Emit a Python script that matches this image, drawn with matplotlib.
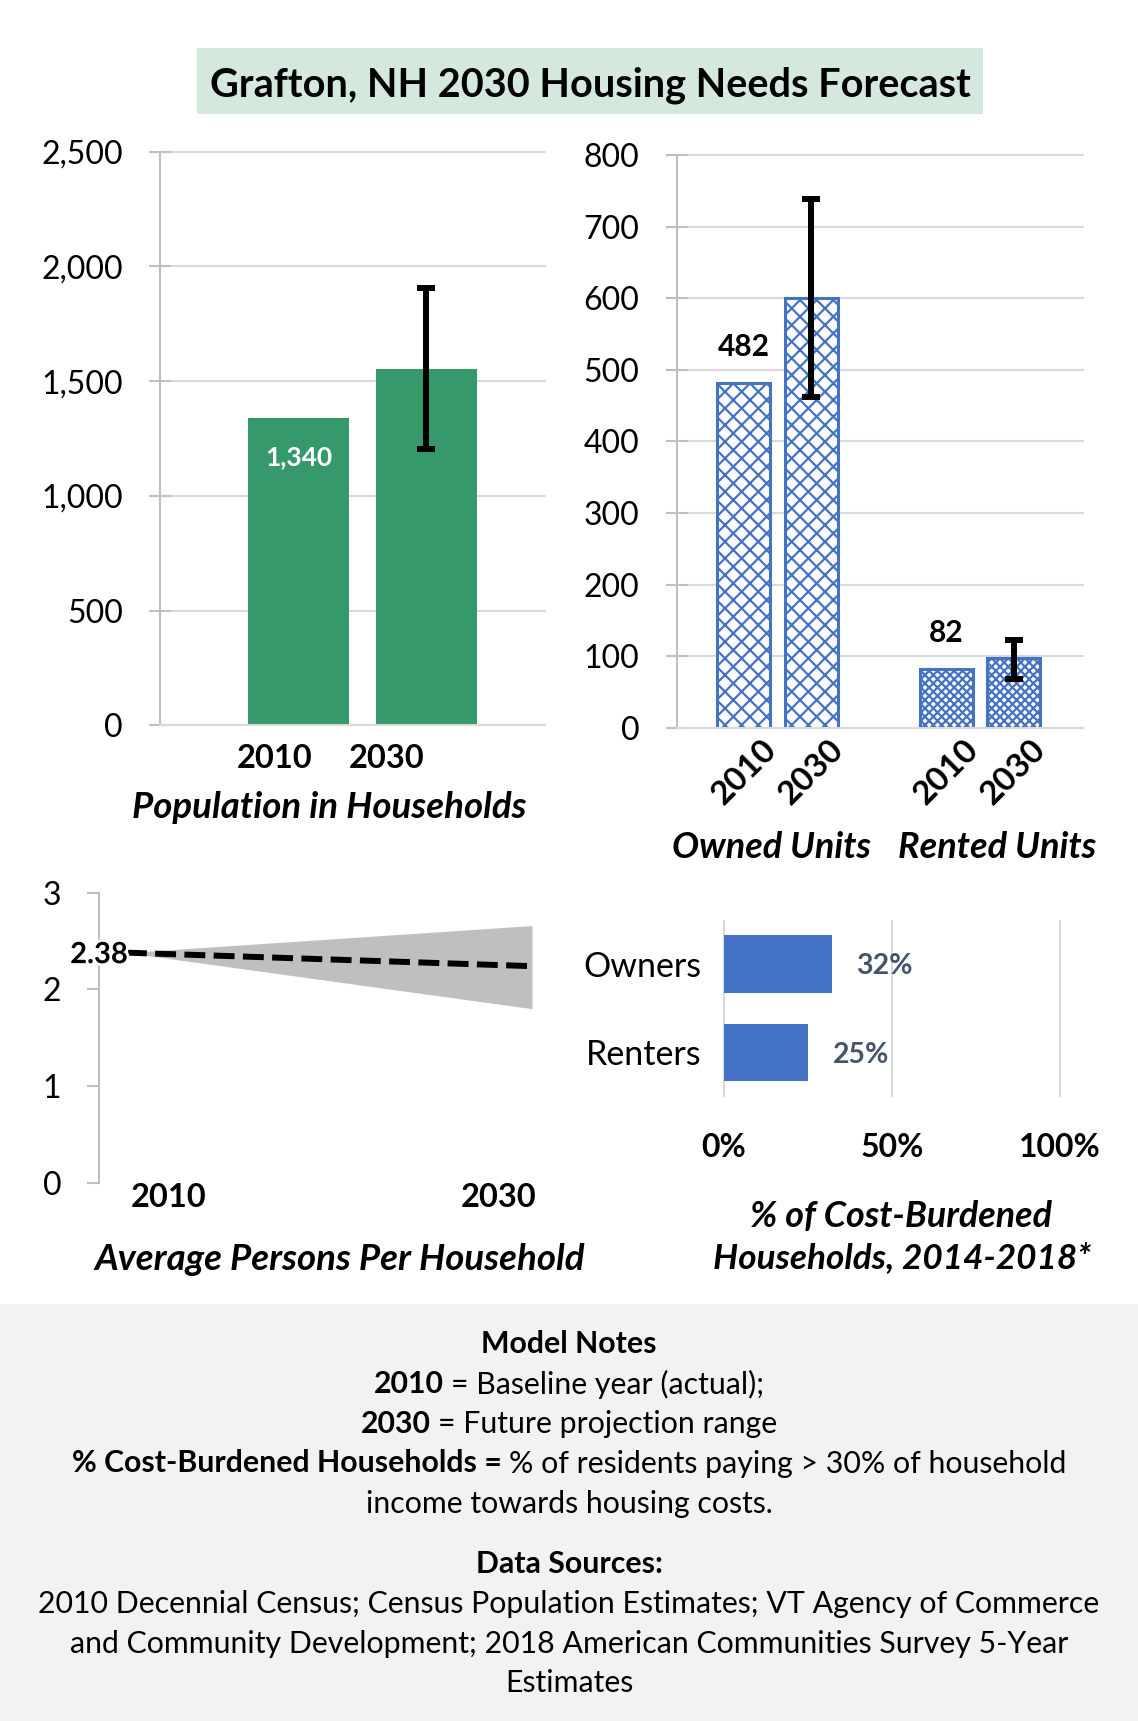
import numpy as np
import matplotlib
matplotlib.use("Agg")
import matplotlib.pyplot as plt
from matplotlib.patches import Rectangle
from matplotlib.transforms import ScaledTranslation
import matplotlib.patheffects as pe

plt.rcParams['font.family'] = ['Lato', 'DejaVu Sans']
plt.rcParams['hatch.linewidth'] = 1.6

# ---------------- data ----------------
title = "Grafton, NH 2030 Housing Needs Forecast"

pop_years = ['2010', '2030']
pop_values = [1340, 1553]
pop_range_2030 = [1203, 1904]
pop_ticks = [0, 500, 1000, 1500, 2000, 2500]

unit_years = ['2010', '2030']
unit_groups = ['Owned Units', 'Rented Units']
owned_values = [482, 600]
owned_range_2030 = [462, 738]
rented_values = [82, 97]
rented_range_2030 = [68, 123]
unit_ticks = [0, 100, 200, 300, 400, 500, 600, 700, 800]

pph_years = [2010, 2030]
pph_mid = [2.38, 2.24]
pph_low = [2.38, 1.80]
pph_high = [2.38, 2.66]
pph_ticks = [0, 1, 2, 3]

cost_cats = ['Owners', 'Renters']
cost_vals = [0.32, 0.25]
cost_ticks = [0, 0.5, 1.0]
cost_ticklabels = ['0%', '50%', '100%']

notes_lines = [
    [("Model Notes", 'bold')],
    [("2010", 'bold'), ("= Baseline year (actual);", 'normal')],
    [("2030", 'bold'), ("= Future projection range", 'normal')],
    [("% Cost-Burdened Households =", 'bold'), ("% of residents paying > 30% of household", 'normal')],
    [("income towards housing costs.", 'normal')],
    [("Data Sources:", 'bold')],
    [("2010 Decennial Census; Census Population Estimates; VT Agency of Commerce", 'normal')],
    [("and Community Development; 2018 American Communities Survey 5-Year", 'normal')],
    [("Estimates", 'normal')],
]

# ---------------- layout helpers ----------------
W, H = 1138, 1721
def fx(px):
    return px / W
def fy(py):
    return 1 - py / H
def rect(x0, x1, ytop, ybot):
    return [x0 / W, 1 - ybot / H, (x1 - x0) / W, (ybot - ytop) / H]

GREEN = '#35996B'
BLUE = '#4472C4'
GRID = '#D9D9D9'
SPINE = '#BFBFBF'
PT = 72 / 100.0  # points per pixel

fig = plt.figure(figsize=(W / 100, H / 100), dpi=100)
fig.patch.set_facecolor('white')

# backgrounds
fig.add_artist(Rectangle((0, 0), 1, (H - 1304) / H, transform=fig.transFigure,
                         facecolor='#F2F2F2', edgecolor='none', zorder=0))
fig.add_artist(Rectangle((fx(197), fy(114.3)), (983 - 197) / W, (114.3 - 48.3) / H,
                         transform=fig.transFigure, facecolor='#D5E8DE',
                         edgecolor='none', zorder=0))

renderer = fig.canvas.get_renderer()

def fit_text(t, target_px):
    w = t.get_window_extent(renderer).width
    t.set_fontsize(t.get_fontsize() * target_px / w)

tt = fig.text(fx(590), fy(81.5), title, ha='center', va='center_baseline',
              fontsize=26, fontweight='bold', color='black')
fit_text(tt, 759)

def axis_title(xp, yp, s, width_px):
    t = fig.text(fx(xp), fy(yp), s, ha='center', va='center_baseline',
                 fontsize=22, fontweight='bold', style='italic')
    fit_text(t, width_px)
    return t

def style_value_axis(ax):
    for s in ['top', 'right']:
        ax.spines[s].set_visible(False)
    ax.spines['left'].set_color(SPINE)
    ax.spines['left'].set_linewidth(1.5)
    ax.spines['bottom'].set_color(GRID)
    ax.spines['bottom'].set_linewidth(1.5)
    ax.yaxis.grid(True, color=GRID, lw=1.5)
    ax.set_axisbelow(True)
    ax.tick_params(axis='y', direction='inout', length=16, width=1.5,
                   color=SPINE, pad=18.6, labelsize=23)
    ax.tick_params(axis='x', length=0)
    for gl in ax.get_ygridlines():
        gl.set_clip_on(False)

err_kw = dict(fmt='none', ecolor='black', elinewidth=4.3, capsize=6.7,
              capthick=4.3, zorder=4)

# ---------------- panel 1: population ----------------
ax1 = fig.add_axes(rect(160, 545, 151.7, 725.5))
x1 = np.arange(len(pop_years))
ax1.bar(x1, pop_values, width=0.79, color=GREEN, zorder=2)
ax1.errorbar(x1[1], pop_values[1],
             yerr=[[pop_values[1] - pop_range_2030[0]], [pop_range_2030[1] - pop_values[1]]],
             **err_kw)
ax1.set_xlim(-1.082, 1.926)
ax1.set_ylim(0, 2500)
ax1.set_yticks(pop_ticks, [f'{v:,}' for v in pop_ticks])
style_value_axis(ax1)
ax1.set_xticks(x1, pop_years)
ax1.tick_params(axis='x', pad=13, labelsize=23.5)
for lab, dx in zip(ax1.get_xticklabels(), [-23.5, -39.5]):
    lab.set_fontweight('bold')
    lab.set_transform(lab.get_transform() + ScaledTranslation(dx / 100, 0, fig.dpi_scale_trans))
ax1.annotate(f'{pop_values[0]:,}', (x1[0], pop_values[0]), xytext=(0, -37.5 * PT),
             textcoords='offset points', ha='center', va='center_baseline',
             color='white', fontweight='bold', fontsize=19, zorder=5)
axis_title(329, 804, 'Population in Households', 394)

# ---------------- panel 2: units ----------------
ax2 = fig.add_axes(rect(676.5, 1082.7, 155, 727.7))
owned_x = np.array([0, 1])
rented_x = np.array([3, 4])
ax2.bar(owned_x, owned_values, width=0.785, facecolor='white', edgecolor=BLUE,
        lw=2.2, hatch='xx', zorder=2)
ax2.bar(rented_x, rented_values, width=0.785, facecolor='white', edgecolor=BLUE,
        lw=2.2, hatch='xxxx', zorder=2)
ax2.errorbar(owned_x[1], owned_values[1],
             yerr=[[owned_values[1] - owned_range_2030[0]], [owned_range_2030[1] - owned_values[1]]],
             **err_kw)
ax2.errorbar(rented_x[1], rented_values[1],
             yerr=[[rented_values[1] - rented_range_2030[0]], [rented_range_2030[1] - rented_values[1]]],
             **err_kw)
ax2.set_xlim(-1.0, 5.02)
ax2.set_ylim(0, 800)
ax2.set_yticks(unit_ticks, [str(v) for v in unit_ticks])
style_value_axis(ax2)
ax2.set_xticks(np.concatenate([owned_x, rented_x]), unit_years * 2)
ax2.tick_params(axis='x', pad=44 * PT, labelsize=24)
for lab in ax2.get_xticklabels():
    lab.set_fontweight('bold')
    lab.set_rotation(45)
    lab.set_ha('center')
    lab.set_va('center')
    lab.set_rotation_mode('anchor')
for xv, v in [(owned_x[0], owned_values[0]), (rented_x[0], rented_values[0])]:
    ax2.annotate(str(v), (xv, v), xytext=(0, 38 * PT), textcoords='offset points',
                 ha='center', va='center_baseline', fontweight='bold', fontsize=21.5)
axis_title(771.5, 845, unit_groups[0], 199)
axis_title(997.6, 845, unit_groups[1], 198)

# ---------------- panel 3: persons per household ----------------
ax3 = fig.add_axes(rect(98.7, 560, 892.7, 1182.7))
ax3.fill_between(pph_years, pph_low, pph_high, color='#BFBFBF', lw=0, zorder=1)
ax3.plot(pph_years, pph_mid, color='black', lw=4.3, dashes=(3.5, 1.4),
         dash_capstyle='butt', zorder=2)
ax3.set_xlim(2008.66, 2031.38)
ax3.set_ylim(0, 3)
for s in ['top', 'right', 'bottom']:
    ax3.spines[s].set_visible(False)
ax3.spines['left'].set_color(SPINE)
ax3.spines['left'].set_linewidth(1.5)
ax3.set_yticks(pph_ticks, [str(v) for v in pph_ticks])
ax3.tick_params(axis='y', direction='out', length=8.3, width=1.5, color=SPINE,
                pad=18.6, labelsize=23)
ax3.set_xticks(pph_years, [str(v) for v in pph_years])
ax3.tick_params(axis='x', length=0, pad=0, labelsize=23.5)
for lab, ha in zip(ax3.get_xticklabels(), ['left', 'right']):
    lab.set_fontweight('bold')
    lab.set_ha(ha)
    lab.set_transform(lab.get_transform() + ScaledTranslation(5 / 100, 0, fig.dpi_scale_trans))
ax3.annotate(f'{pph_mid[0]:.2f}', (pph_years[0], pph_mid[0]), xytext=(2 * PT, 0),
             textcoords='offset points', ha='right', va='center_baseline',
             fontweight='bold', fontsize=21, zorder=5,
             path_effects=[pe.withStroke(linewidth=4, foreground='white')])
axis_title(340, 1256.7, 'Average Persons Per Household', 490)

# ---------------- panel 4: cost burdened ----------------
ax4 = fig.add_axes(rect(720.6, 1063.4, 920, 1097))
y4 = np.arange(len(cost_cats))
ax4.barh(y4, cost_vals, height=0.655, color=BLUE, zorder=2)
ax4.set_xlim(-0.01, 1.01)
ax4.set_ylim(1.503, -0.497)
for s in ax4.spines.values():
    s.set_visible(False)
ax4.set_xticks(cost_ticks, cost_ticklabels)
ax4.xaxis.grid(True, color=GRID, lw=1.5)
ax4.set_axisbelow(True)
ax4.set_yticks(y4, cost_cats)
ax4.tick_params(axis='y', length=0, pad=14, labelsize=24.5)
ax4.tick_params(axis='x', length=0, pad=26, labelsize=23)
for lab in ax4.get_xticklabels():
    lab.set_fontweight('bold')
for yv, v in zip(y4, cost_vals):
    ax4.annotate(f'{v:.0%}', (v, yv), xytext=(25 * PT, 0), textcoords='offset points',
                 ha='left', va='center_baseline', fontweight='bold', fontsize=20.5,
                 color='#44546A', zorder=5)
axis_title(901, 1213.3, '% of Cost-Burdened', 302)
axis_title(902, 1255.5, 'Households, 2014-2018*', 378)

# ---------------- notes ----------------
note_y = [1341.7, 1381.7, 1421.7, 1461, 1501.7, 1561.7, 1601.7, 1641.7, 1680]
probe = fig.text(0, 0, notes_lines[6][0][0], fontsize=20)
w_probe = probe.get_window_extent(renderer).width
probe.remove()
note_size = 20 * 1064 / w_probe

def text_w(s, weight):
    t = fig.text(0, 0, s, fontsize=note_size, fontweight=weight)
    w = t.get_window_extent(renderer).width
    t.remove()
    return w

space_w = text_w('x x', 'normal') - text_w('xx', 'normal')
cx = 569
for parts, yp in zip(notes_lines, note_y):
    widths = [text_w(s, wt) for s, wt in parts]
    total = sum(widths) + space_w * (len(parts) - 1)
    x = cx - total / 2
    for (s, wt), w in zip(parts, widths):
        fig.text(fx(x), fy(yp), s, ha='left', va='center_baseline',
                 fontsize=note_size, fontweight=wt, color='black')
        x += w + space_w

fig.savefig('out.png', dpi=100, facecolor='white')
